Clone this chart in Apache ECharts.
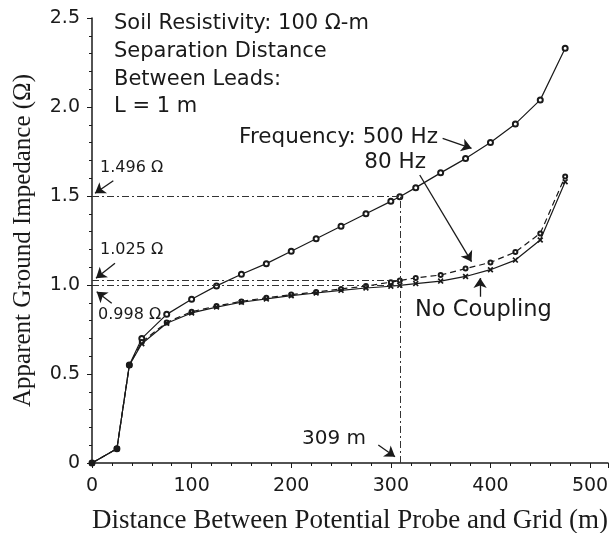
<!DOCTYPE html>
<html>
<head>
<meta charset="utf-8">
<script src="https://cdn.jsdelivr.net/npm/echarts@6/dist/echarts.min.js"></script>
<style>html,body{margin:0;padding:0;background:#fff;}#c{width:611px;height:533px;}</style>
</head>
<body>
<div id="c"></div>
<script>
// Distance between potential probe and grid (m)
const distance = [0, 25, 37.5, 50, 75, 100, 125, 150, 175, 200, 225, 250, 275, 300, 309, 325, 350, 375, 400, 425, 450, 475];
// Apparent ground impedance (Ω)
const hz500 = [0, 0.08, 0.55, 0.70, 0.835, 0.92, 0.995, 1.06, 1.12, 1.19, 1.26, 1.33, 1.40, 1.47, 1.496, 1.547, 1.63, 1.71, 1.80, 1.905, 2.04, 2.33];
const hz80 = [0, 0.08, 0.55, 0.68, 0.79, 0.85, 0.882, 0.908, 0.928, 0.946, 0.960, 0.978, 0.994, 1.016, 1.025, 1.040, 1.056, 1.092, 1.127, 1.185, 1.29, 1.61];
const noCoupling = [0, 0.08, 0.55, 0.67, 0.785, 0.843, 0.876, 0.903, 0.922, 0.940, 0.955, 0.970, 0.983, 0.993, 0.998, 1.008, 1.022, 1.048, 1.086, 1.14, 1.253, 1.58];
const xTicks = [0, 100, 200, 300, 400, 500];
const yTicks = [0, 0.5, 1.0, 1.5, 2.0, 2.5];
// reference values
const refX = 309;
const refY = [1.496, 1.025, 0.998];
// annotation arrows in data coordinates: [x0, y0, x1, y1]
const arrows = [
  [352, 1.824, 381, 1.768],
  [329, 1.618, 381, 1.131],
  [389.6, 0.934, 389.6, 1.039],
  [21.4, 1.586, 3.0, 1.515],
  [23.1, 1.122, 4.0, 1.038],
  [19.8, 0.897, 4.7, 0.962],
  [287.4, 0.101, 304.2, 0.035]
];

const pair = (xs, ys) => xs.map((x, i) => [x, ys[i]]);
const ink = '#1a1a1a';
const sans = 'DejaVu Sans';
const serif = 'Liberation Serif';

const refLines = [
  [{ coord: [refX, 0] }, { coord: [refX, refY[0]] }]
].concat(refY.map(v => [{ coord: [0, v] }, { coord: [refX, v] }]));

const arrowLines = arrows.map(a => [{ coord: [a[0], a[1]] }, { coord: [a[2], a[3]] }]);

const chart = echarts.init(document.getElementById('c'), null, { renderer: 'canvas' });
chart.setOption({
  animation: false,
  backgroundColor: '#fff',
  grid: { left: 92, right: 3, top: 18, bottom: 70, containLabel: false, outerBoundsMode: 'none' },
  xAxis: {
    type: 'value', min: 0, max: 518, interval: 100,
    name: 'Distance Between Potential Probe and Grid (m)',
    nameLocation: 'middle', nameGap: 44,
    nameTextStyle: { fontFamily: serif, fontSize: 27, color: ink },
    axisLine: { lineStyle: { color: ink, width: 1.5 } },
    axisTick: { length: 5, lineStyle: { color: ink } },
    minorTick: { show: true, splitNumber: 5, length: 3, lineStyle: { color: ink } },
    splitLine: { show: false },
    axisLabel: {
      margin: 14, fontFamily: sans, fontSize: 19, color: ink,
      formatter: v => (xTicks.indexOf(v) >= 0 ? String(v) : '')
    }
  },
  yAxis: {
    type: 'value', min: 0, max: 2.5, interval: 0.5,
    name: 'Apparent Ground Impedance (Ω)',
    nameLocation: 'middle', nameGap: 56,
    nameTextStyle: { fontFamily: serif, fontSize: 25, color: ink },
    axisLine: { show: true, lineStyle: { color: ink, width: 1.5 } },
    axisTick: { show: true, length: 5, lineStyle: { color: ink } },
    minorTick: { show: true, splitNumber: 5, length: 3, lineStyle: { color: ink } },
    splitLine: { show: false },
    axisLabel: {
      margin: 12, fontFamily: sans, fontSize: 19, color: ink,
      formatter: v => {
        const i = yTicks.indexOf(v);
        if (i < 0) return '';
        return v === 0 ? '0' : v.toFixed(1);
      }
    }
  },
  series: [
    {
      name: 'Frequency: 500 Hz', type: 'line', data: pair(distance, hz500),
      symbol: 'emptyCircle', symbolSize: 5,
      lineStyle: { color: ink, width: 1.2 },
      itemStyle: { color: ink, borderColor: ink, borderWidth: 1.5 },
      markLine: {
        silent: true, symbol: 'none',
        label: { show: false },
        lineStyle: { color: '#333', width: 1, type: [7, 3, 2, 3] },
        data: refLines
      }
    },
    {
      name: '80 Hz', type: 'line', data: pair(distance, hz80),
      symbol: 'emptyCircle', symbolSize: 4,
      lineStyle: { color: ink, width: 1.2, type: [6, 4] },
      itemStyle: { color: ink, borderColor: ink, borderWidth: 1.2 }
    },
    {
      name: 'No Coupling', type: 'line', data: pair(distance, noCoupling),
      symbol: 'path://M2,0L5,3L8,0L10,2L7,5L10,8L8,10L5,7L2,10L0,8L3,5L0,2Z', symbolSize: 6,
      lineStyle: { color: ink, width: 1.2 },
      itemStyle: { color: ink },
      markLine: {
        silent: true, symbol: ['none', 'arrow'], symbolSize: 10,
        label: { show: false },
        lineStyle: { color: ink, width: 1.3, type: 'solid' },
        data: arrowLines
      }
    }
  ],
  graphic: [
    { type: 'text', left: 114, top: 10, silent: true,
      style: { text: 'Soil Resistivity: 100 Ω-m\nSeparation Distance\nBetween Leads:\nL = 1 m',
        font: '21px "DejaVu Sans"', fill: ink, lineHeight: 27.7 } },
    { type: 'text', x: 438, y: 137, silent: true,
      style: { text: 'Frequency: 500 Hz', font: '21.5px "DejaVu Sans"', fill: ink, align: 'right', verticalAlign: 'middle' } },
    { type: 'text', x: 426, y: 162, silent: true,
      style: { text: '80 Hz', font: '21.5px "DejaVu Sans"', fill: ink, align: 'right', verticalAlign: 'middle' } },
    { type: 'text', x: 415, y: 310, silent: true,
      style: { text: 'No Coupling', font: '22.5px "DejaVu Sans"', fill: ink, align: 'left', verticalAlign: 'middle' } },
    { type: 'text', x: 100, y: 168, silent: true,
      style: { text: '1.496 Ω', font: '16px "DejaVu Sans"', fill: ink, align: 'left', verticalAlign: 'middle' } },
    { type: 'text', x: 100, y: 250, silent: true,
      style: { text: '1.025 Ω', font: '16px "DejaVu Sans"', fill: ink, align: 'left', verticalAlign: 'middle' } },
    { type: 'text', x: 98, y: 315, silent: true,
      style: { text: '0.998 Ω', font: '16px "DejaVu Sans"', fill: ink, align: 'left', verticalAlign: 'middle' } },
    { type: 'text', x: 302, y: 439, silent: true,
      style: { text: '309 m', font: '20px "DejaVu Sans"', fill: ink, align: 'left', verticalAlign: 'middle' } }
  ]
});
</script>
</body>
</html>
